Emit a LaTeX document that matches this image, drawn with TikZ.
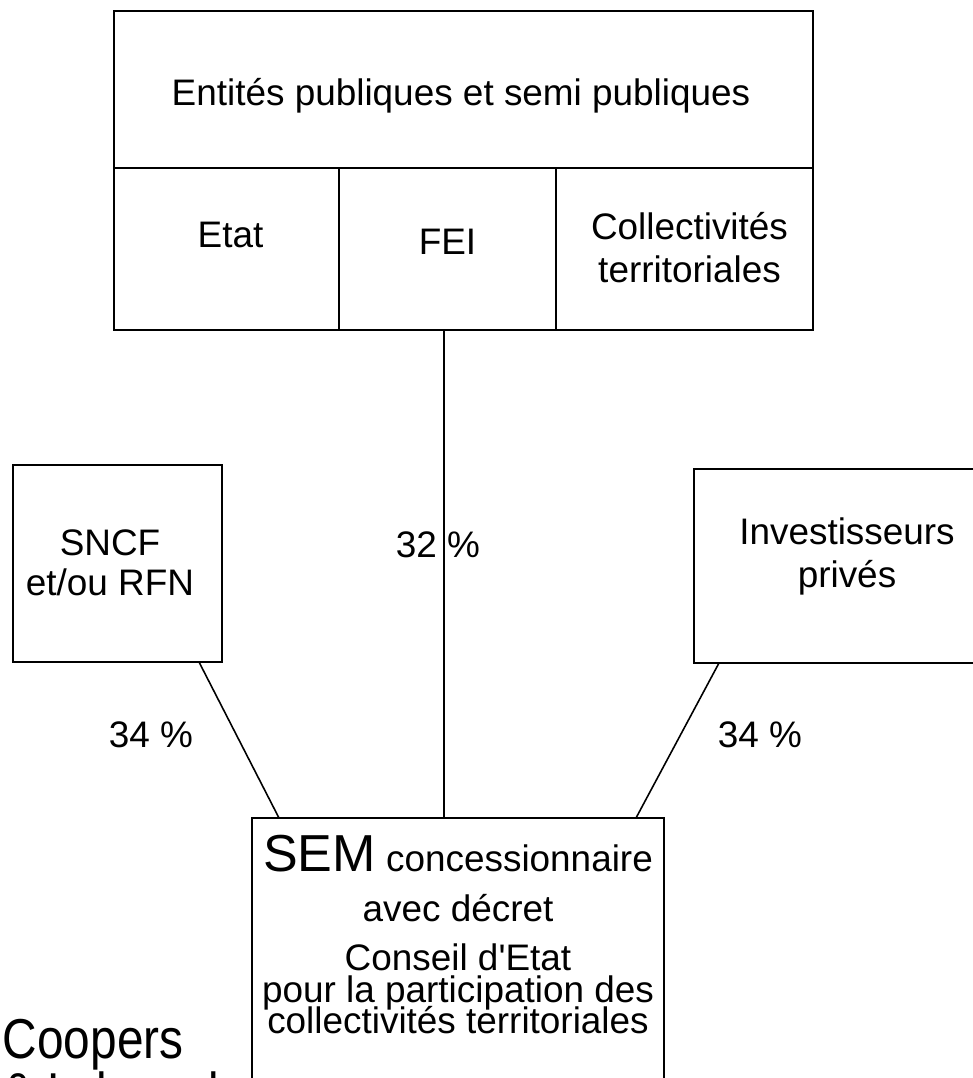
\documentclass[tikz,border=0pt]{standalone}
\usepackage{fontspec}
\setmainfont{Liberation Sans}

\tikzset{
  box/.style={draw, line width=1.2pt, inner sep=0pt, outer sep=0pt},
  txt/.style={font={\fontsize{21}{24.5}\selectfont\lineskiplimit=-1cm}, align=center, inner sep=0pt, anchor=base},
  link/.style={line width=0.9pt},
}

\begin{document}
\begin{tikzpicture}
        \useasboundingbox (0,0) rectangle (19.46,21.56);

        % Public entities.
        \node[box, minimum width=13.98cm, minimum height=3.14cm] (entites) at (9.27,19.77) {};
        \node[box, minimum width=4.50cm, minimum height=3.24cm] (etat) at (4.53,16.58) {};
        \node[box, minimum width=4.34cm, minimum height=3.24cm] (fei) at (8.95,16.58) {};
        \node[box, minimum width=5.14cm, minimum height=3.24cm] (coll) at (13.69,16.58) {};
        \node[txt] (entites-t) at (9.22,19.44) {Entités publiques et semi publiques};
        \node[txt] (etat-t) at (4.61,16.60) {Etat};
        \node[txt] (fei-t) at (8.95,16.46) {FEI};
        \node[txt] (coll-t) at (13.79,15.90) {Collectivités\\territoriales};

        % Shareholders.
        \node[box, minimum width=4.18cm, minimum height=3.94cm] (sncf) at (2.35,10.29) {};
        \node[txt, font={\fontsize{21}{22.8}\selectfont\lineskiplimit=-1cm}] (sncf-t) at (2.2,9.64) {SNCF\\et/ou RFN};
        \node[box, minimum width=6.12cm, minimum height=3.88cm] (invest) at (16.94,10.24) {};
        \node[txt] (invest-t) at (16.94,9.80) {Investisseurs\\privés};

        % Company.
        \node[box, minimum width=8.24cm, minimum height=5.84cm] (sem) at (9.16,2.28) {};
        \node[txt, font={\fontsize{21}{18}\selectfont\lineskiplimit=-1cm}] (sem-t) at (9.16,0.88)
          {{\fontsize{29.6}{30}\selectfont SEM} concessionnaire\\[0.37cm]
           avec décret\\[0.35cm]
           Conseil d\textquotesingle Etat\\
           pour la participation des\\
           collectivités territoriales};

        % Connections.
        \draw[link] ([xshift=-0.46cm]sncf.south east) -- ([xshift=0.54cm]sem.north west);
        \draw[link] ([xshift=-0.07cm]fei.south) -- ([xshift=-0.07cm]fei.south |- sem.north);
        \draw[link] ([xshift=0.5cm]invest.south west) -- ([xshift=-0.56cm]sem.north east);
        \node[txt] (pct-fei) at (8.76,10.40) {32 \%};
        \node[txt] (pct-sncf) at (3.02,6.60) {34 \%};
        \node[txt] (pct-invest) at (15.2,6.60) {34 \%};

        % Logo.
        \node[txt, anchor=base west, align=left, font={\fontsize{32}{30.7}\selectfont\lineskiplimit=-1cm}] (logo) at (0.05,-0.68)
          {\scalebox{0.85}[1]{Coopers}\\\scalebox{0.85}[1]{\& Lybrand}};
\end{tikzpicture}
\end{document}
